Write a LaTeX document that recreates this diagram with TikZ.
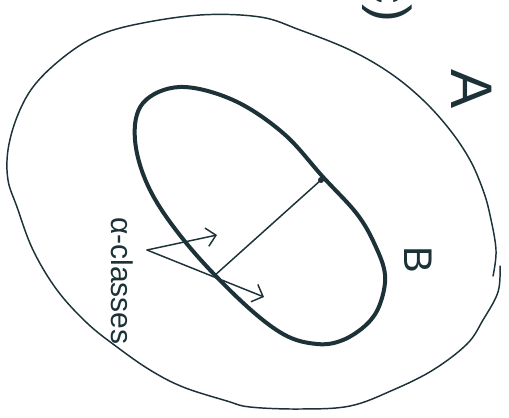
\documentclass[tikz,border=0pt]{standalone}
\usepackage{fontspec}
\setmainfont{Liberation Sans}
\usetikzlibrary{arrows.meta}
\definecolor{ink}{RGB}{28,50,56}
\tikzset{
  thinline/.style={draw=ink, line width=1.1pt, line cap=round, line join=round},
  thickline/.style={draw=ink, line width=3pt, line cap=round, line join=round},
  arrowline/.style={draw=ink, line width=1.1pt, line cap=round, -{Straight Barb[length=7pt,width=14pt,line width=1.1pt]}},
  label/.style={text=ink, inner sep=0pt, rotate=-90}
}
\begin{document}
\begin{tikzpicture}[x=0.75pt,y=-0.75pt]
\useasboundingbox (0,0) rectangle (509,417);
\clip (0,0) rectangle (509,417);
\fill[white] (0,0) rectangle (509,417);
% outer set A
\draw[thinline] plot[smooth, tension=0.6] coordinates {
 (500,266) (498,292) (483,320) (467,344) (433,370) (393,390) (350,406) (300,409)
 (250,407) (227,401) (183,387) (150,370) (117,347) (87,323) (57,290) (33,250)
 (17,207) (8,180) (8,150) (17,117) (33,87) (60,60) (93,38) (133,25) (200,15)
 (260,17) (300,30) (350,50) (390,73) (423,100) (450,130) (470,160) (483,190)
 (490,215) (496,250) (493,276)};
% inner set B
\draw[thickline] plot[smooth cycle, tension=0.6] coordinates {
 (180,87) (233,100) (283,133) (323,177) (357,214) (375,245) (385,275) (380,304)
 (367,324) (343,340) (317,344) (283,334) (240,300) (187,244) (150,190) (135,140)
 (143,103)};
% chord
\coordinate (j1) at (321,180);
\coordinate (j2) at (214,276);
\draw[thinline] (j1) -- (j2);
\fill[ink] (j1) circle[radius=3];
% labels
\node[label, font=\fontsize{22.5}{22.5}\selectfont] (alpha) at (122,281) {α-classes};
\node[label, font=\fontsize{44}{44}\selectfont] (A) at (472,89) {A};
\node[label, font=\fontsize{30}{30}\selectfont] (B) at (418,260) {B};
\node[label, font=\fontsize{40}{40}\selectfont] (c) at (387,0) {c)};
% arrows
\coordinate (o) at (147,250);
\coordinate (t1) at (217,235);
\coordinate (t2) at (264,297);
\draw[arrowline] (o) -- (t1);
\draw[arrowline] (o) -- (t2);
\end{tikzpicture}
\end{document}
